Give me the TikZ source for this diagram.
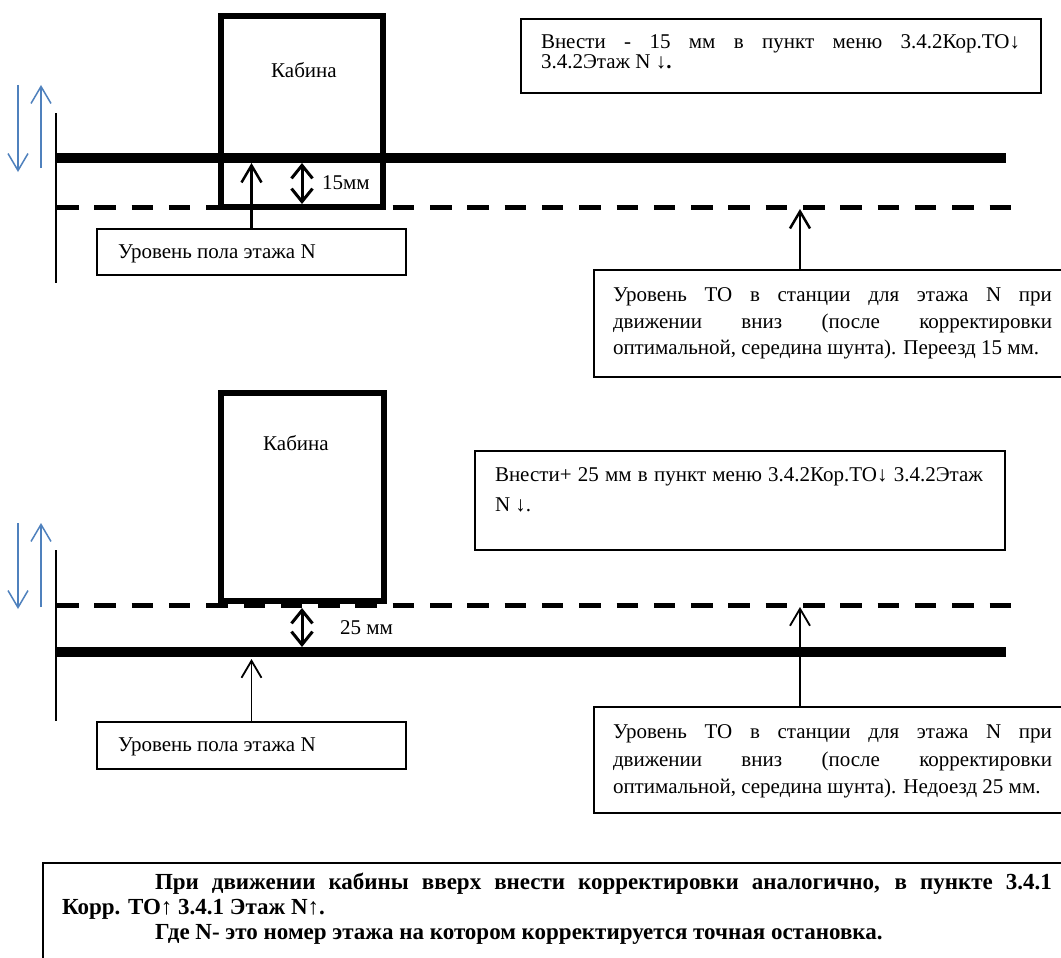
\documentclass[tikz,border=0pt]{standalone}
\usepackage{fontspec}
\setmainfont{Liberation Serif}
\usetikzlibrary{arrows.meta}
\definecolor{arrowblue}{RGB}{79,129,189}
\begin{document}
\begin{tikzpicture}[x=1pt,y=-1pt,
  floorline/.style={line width=10pt},
  levelline/.style={line width=5pt, dash pattern=on 21.5pt off 15.8pt},
  shaftline/.style={line width=2pt},
  cabinbox/.style={draw, line width=6pt, rectangle, inner sep=0pt, outer sep=0pt, anchor=north west},
  textbox/.style={draw, line width=1.2pt, rectangle, inner sep=0pt, outer sep=0pt, anchor=north west},
  txt/.style={inner sep=0pt, outer sep=0pt, anchor=base west, font=\fontsize{21}{24}\selectfont},
  boldtxt/.style={txt, font=\fontsize{23}{26}\selectfont\bfseries},
  barb/.style={-{Straight Barb[length=17pt,width=20pt]}},
  dbarb/.style={{Straight Barb[length=13pt,width=21pt]}-{Straight Barb[length=13pt,width=21pt]}},
  bluearrow/.style={draw=arrowblue, line width=1.5pt, -{Straight Barb[length=17pt,width=20pt]}}
]
\fill[white] (0,0) rectangle (1061,958);
\useasboundingbox (0,0) rectangle (1061,958);

% ================= TOP SCENE =================
\node[cabinbox, minimum width=162pt, minimum height=191pt] (cabA) at (221,16) {};
\node[txt, anchor=center] (cabAtext) at (304,70) {Кабина};

\draw[floorline] (56,158) -- (1006,158);
\draw[levelline] (57,207) -- (1011,207);
\draw[shaftline] (56,113) -- (56,283);

% blue direction arrows
\coordinate (dnA0) at (18,85);  \coordinate (dnA1) at (18,172);
\coordinate (upA0) at (41,168); \coordinate (upA1) at (41,85);
\draw[bluearrow] (dnA0) -- (dnA1);
\draw[bluearrow] (upA0) -- (upA1);

% floor box
\node[textbox, minimum width=309pt, minimum height=46pt] (floorA) at (97,229) {};
\node[txt] (floorAtext) at (118,258) {Уровень пола этажа N};
\coordinate (floorAtip) at (251.5,163);
\draw[barb, line width=2.5pt] (floorA.north) -- (floorAtip);

% gap dimension
\coordinate (gapAtop) at (302,163);
\coordinate (gapAbot) at (302,204);
\draw[dbarb, line width=3pt] (gapAtop) -- (gapAbot);
\node[txt, anchor=west] (gapAlabel) at (322,183) {15мм};

% menu box
\node[textbox, minimum width=520pt, minimum height=74pt] (menuA) at (521,19) {};
\node[txt] (menuAl1) at (541,49) {\makebox[479pt][s]{Внести - 15 мм в пункт меню 3.4.2Кор.ТО↓}};
\node[txt] (menuAl2) at (541,69) {3.4.2Этаж N ↓\textbf{.}};

% stop level box
\node[textbox, minimum width=470pt, minimum height=107pt] (stopA) at (594,270) {};
\node[txt] (stopAl1) at (613,301) {\makebox[439pt][s]{Уровень ТО в станции для этажа N при}};
\node[txt] (stopAl2) at (613,328) {\makebox[439pt][s]{движении вниз (после корректировки}};
\node[txt] (stopAl3) at (613,354) {оптимальной, середина шунта). Переезд 15 мм.};
\coordinate (stopAtip) at (800,209);
\draw[barb, line width=2.5pt] (stopA.north -| stopAtip) -- (stopAtip);

% ================= BOTTOM SCENE =================
\node[cabinbox, minimum width=163pt, minimum height=208pt] (cabB) at (221,393) {};
\node[txt, anchor=center] (cabBtext) at (296,443) {Кабина};

\draw[levelline] (57,605) -- (1011,605);
\draw[floorline] (56,652) -- (1006,652);
\draw[shaftline] (56,550) -- (56,721);

\coordinate (dnB0) at (18,523); \coordinate (dnB1) at (18,609);
\coordinate (upB0) at (41,607); \coordinate (upB1) at (41,523);
\draw[bluearrow] (dnB0) -- (dnB1);
\draw[bluearrow] (upB0) -- (upB1);

\node[textbox, minimum width=309pt, minimum height=47pt] (floorB) at (97,722) {};
\node[txt] (floorBtext) at (118,751) {Уровень пола этажа N};
\coordinate (floorBtip) at (251.5,659);
\draw[barb, line width=1.8pt] (floorB.north) -- (floorBtip);

\coordinate (gapBtop) at (302,608);
\coordinate (gapBbot) at (302,647);
\draw[dbarb, line width=3pt] (gapBtop) -- (gapBbot);
\node[txt, anchor=west] (gapBlabel) at (340,628) {25 мм};

\node[textbox, minimum width=530pt, minimum height=99pt] (menuB) at (475,451) {};
\node[txt] (menuBl1) at (495,481) {\makebox[488pt][s]{Внести+ 25 мм в пункт меню 3.4.2Кор.ТО↓ 3.4.2Этаж}};
\node[txt] (menuBl2) at (495,511) {N ↓.};

\node[textbox, minimum width=470pt, minimum height=106pt] (stopB) at (594,707) {};
\node[txt] (stopBl1) at (613,738) {\makebox[439pt][s]{Уровень ТО в станции для этажа N при}};
\node[txt] (stopBl2) at (613,766) {\makebox[439pt][s]{движении вниз (после корректировки}};
\node[txt] (stopBl3) at (613,793) {оптимальной, середина шунта). Недоезд 25 мм.};
\coordinate (stopBtip) at (800,607);
\draw[barb, line width=1.8pt] (stopB.north -| stopBtip) -- (stopBtip);

% ================= NOTE =================
\node[textbox, minimum width=1021pt, minimum height=110pt] (note) at (43,863) {};
\node[boldtxt] (notel1) at (155,889) {\makebox[897pt][s]{При движении кабины вверх внести корректировки аналогично, в пункте 3.4.1}};
\node[boldtxt] (notel2) at (62,914) {Корр. ТО↑ 3.4.1 Этаж N↑.};
\node[boldtxt] (notel3) at (155,939) {Где N- это номер этажа на котором корректируется точная остановка.};
\end{tikzpicture}
\end{document}
